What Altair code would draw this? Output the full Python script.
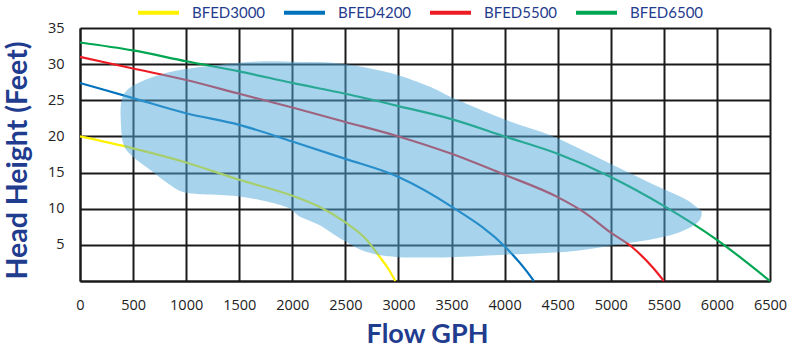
import altair as alt
import pandas as pd

# Pump curves: flow (GPH) vs head (feet)
series_names = ["BFED3000", "BFED4200", "BFED5500", "BFED6500"]
series_colors = ["#FFF200", "#0072BC", "#ED1C24", "#00A651"]

flow_3000 = [0, 500, 1000, 1500, 2000, 2250, 2500, 2700, 2825, 2900, 2970]
head_3000 = [20, 18.35, 16.4, 14.0, 11.8, 10.3, 8.1, 5.7, 3.3, 1.8, 0]

flow_4200 = [0, 500, 1000, 1500, 2000, 2500, 3000, 3500, 4000, 4200, 4275]
head_4200 = [27.4, 25.3, 23.2, 21.6, 19.3, 16.9, 14.4, 10.3, 4.8, 1.5, 0]

flow_5500 = [0, 500, 1000, 1500, 2000, 2500, 3000, 3500, 4000, 4500, 4750, 5000, 5200, 5400, 5500]
head_5500 = [31, 29.4, 27.8, 25.9, 24.0, 22.0, 20.0, 17.6, 14.7, 11.6, 9.5, 6.7, 4.7, 1.8, 0]

flow_6500 = [0, 500, 1000, 1500, 2000, 2500, 3000, 3500, 4000, 4500, 5000, 5500, 6000, 6500]
head_6500 = [33, 31.9, 30.4, 29.0, 27.4, 25.9, 24.2, 22.4, 20.0, 17.6, 14.4, 10.4, 5.7, 0]

# Operating range (shaded region) outline, in data units
blob_flow = [383, 393, 443, 565, 819, 1130, 1507, 1761, 2072, 2382, 2702, 3013, 3324, 3503,
             4011, 4426, 4736, 5056, 5367, 5678, 5810, 5857, 5810, 5621, 5367, 5056, 4736,
             4426, 3955, 3484, 3013, 2702, 2448, 2260, 2072, 1949, 1695, 1441, 1130, 970,
             819, 659, 499, 408]
blob_head = [22.7, 25.0, 26.4, 27.5, 28.8, 29.6, 30.2, 30.4, 30.3, 30.2, 29.5, 28.4, 26.7, 25.4,
             22.3, 20.2, 18.1, 15.8, 13.6, 11.5, 10.2, 9.4, 8.0, 6.6, 5.7, 5.0, 4.3,
             3.9, 3.6, 3.3, 3.3, 4.0, 5.9, 7.7, 8.9, 10.2, 11.2, 11.8, 12.0, 12.3,
             13.6, 15.4, 17.2, 19.0]

x_ticks = list(range(0, 6501, 500))
y_ticks = list(range(0, 36, 5))

rows = []
for name, fl, hd in [("BFED3000", flow_3000, head_3000), ("BFED4200", flow_4200, head_4200),
                     ("BFED5500", flow_5500, head_5500), ("BFED6500", flow_6500, head_6500)]:
    for i, (f, h) in enumerate(zip(fl, hd)):
        rows.append({"series": name, "flow": f, "head": h, "i": i})
curves = pd.DataFrame(rows)
blob = pd.DataFrame({"flow": blob_flow, "head": blob_head, "i": list(range(len(blob_flow)))})

navy = "#1F3C8E"

x_axis = alt.Axis(values=x_ticks, format="d", grid=True, gridColor="#1a1a1a", gridWidth=2,
                  gridOpacity=1, domainColor="#1a1a1a", domainWidth=2, ticks=False,
                  labelPadding=17, labelFontSize=14.5, labelFont="Open Sans",
                  labelColor="#222222", labelFlush=False, labelOverlap=False,
                  title="Flow GPH", titleFont="Lato", titleFontSize=27,
                  titleFontWeight="bold", titleColor=navy,
                  titleX=347, titleY=53, titleAlign="center", titleBaseline="middle")
y_axis = alt.Axis(values=y_ticks, format="d", grid=True, gridColor="#1a1a1a", gridWidth=2,
                  gridOpacity=1, domainColor="#1a1a1a", domainWidth=2, ticks=False,
                  labelPadding=16, labelFontSize=14.5, labelFont="Open Sans",
                  labelColor="#222222", labelFlush=False, labelOverlap=False,
                  labelExpr="datum.value == 0 ? '' : datum.label",
                  title="Head Height (Feet)", titleFont="Lato", titleFontSize=28.5,
                  titleFontWeight="bold", titleColor=navy, titleAngle=270,
                  titleX=-63, titleY=132, titleAlign="center", titleBaseline="middle")

x_scale = alt.Scale(domain=[0, 6500], nice=False, zero=False)
y_scale = alt.Scale(domain=[0, 35], nice=False)

lines = alt.Chart(curves).mark_line(strokeWidth=2.2, interpolate="monotone").encode(
    x=alt.X("flow:Q", scale=x_scale, axis=x_axis),
    y=alt.Y("head:Q", scale=y_scale, axis=y_axis),
    color=alt.Color("series:N", scale=alt.Scale(domain=series_names, range=series_colors),
                    legend=alt.Legend(orient="none", legendX=56, legendY=-38, direction="horizontal",
                                      title=None, symbolType="stroke", symbolSize=1681,
                                      symbolStrokeWidth=4, labelFont="Lato", labelFontSize=15,
                                      labelColor=navy, labelOffset=11, columnPadding=10,
                                      padding=0)),
    order="i:Q",
)

area = alt.Chart(blob).mark_line(interpolate="cardinal-closed", fill="#4FAAD9", fillOpacity=0.5,
                                 strokeOpacity=0, strokeWidth=0).encode(
    x=alt.X("flow:Q", scale=x_scale, axis=x_axis),
    y=alt.Y("head:Q", scale=y_scale, axis=y_axis),
    order="i:Q")

chart = alt.layer(lines, area).properties(
    width=690, height=253,
    autosize=alt.AutoSizeParams(type="none"),
    padding={"left": 80, "top": 28, "right": 21, "bottom": 71},
    background="white",
).configure_view(strokeWidth=0)

chart.save("out.html", embed_options={"renderer": "svg", "actions": False})
